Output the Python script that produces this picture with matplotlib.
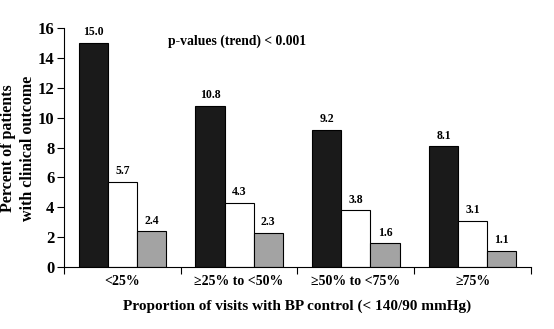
import numpy as np
import matplotlib.pyplot as plt

# data
groups = ['<25%', '\u226525% to <50%', '\u226550% to <75%', '\u226575%']
black_vals = [15.0, 10.8, 9.2, 8.1]
white_vals = [5.7, 4.3, 3.8, 3.1]
gray_vals = [2.4, 2.3, 1.6, 1.1]

plt.rcParams['font.family'] = ['Liberation Serif', 'DejaVu Serif']
plt.rcParams['font.weight'] = 'bold'

fig = plt.figure(figsize=(5.54, 3.29), dpi=100, facecolor='w')
ax = fig.add_axes([0.1155, 0.188, 0.843, 0.727])

w = 0.25
base = np.arange(len(groups))
series = [(black_vals, '#1a1a1a'), (white_vals, 'white'), (gray_vals, '#a3a3a3')]
for k, (vals, col) in enumerate(series):
    xs = base + 0.125 + w * k + w / 2
    ax.bar(xs, vals, width=w, color=col, edgecolor='black', linewidth=0.8)
    for x, v in zip(xs, vals):
        ax.text(x, v + 0.3, '%.1f' % v, ha='center', va='bottom',
                fontsize=8.5, fontweight='bold')

ax.set_xlim(0, 4)
ax.set_ylim(0, 16)
ax.set_yticks(range(0, 17, 2))
ax.set_xticks(range(0, 5))
ax.set_xticklabels([])
ax.set_xticks(base + 0.5, minor=True)
ax.set_xticklabels(groups, minor=True)
ax.tick_params(axis='x', which='minor', length=0, labelsize=10, pad=6)
ax.tick_params(axis='x', which='major', length=5, direction='out')
ax.tick_params(axis='y', length=5, direction='out', labelsize=12, pad=2)
for lab in ax.get_yticklabels() + ax.get_xticklabels(minor=True):
    lab.set_fontweight('bold')

ax.spines['top'].set_visible(False)
ax.spines['right'].set_visible(False)

fig.text(0.032, 0.55, 'Percent of patients\nwith clinical outcome', fontsize=11.5,
         fontweight='bold', rotation=90, ha='center', va='center',
         linespacing=1.35, multialignment='center')
ax.set_xlabel('Proportion of visits with BP control (< 140/90 mmHg)',
              fontsize=11, fontweight='bold', labelpad=8)

ax.text(0.223, 0.945, 'p-values (trend) < 0.001', transform=ax.transAxes,
        fontsize=9.8, fontweight='bold', va='center')

fig.savefig('out.png', dpi=100)
